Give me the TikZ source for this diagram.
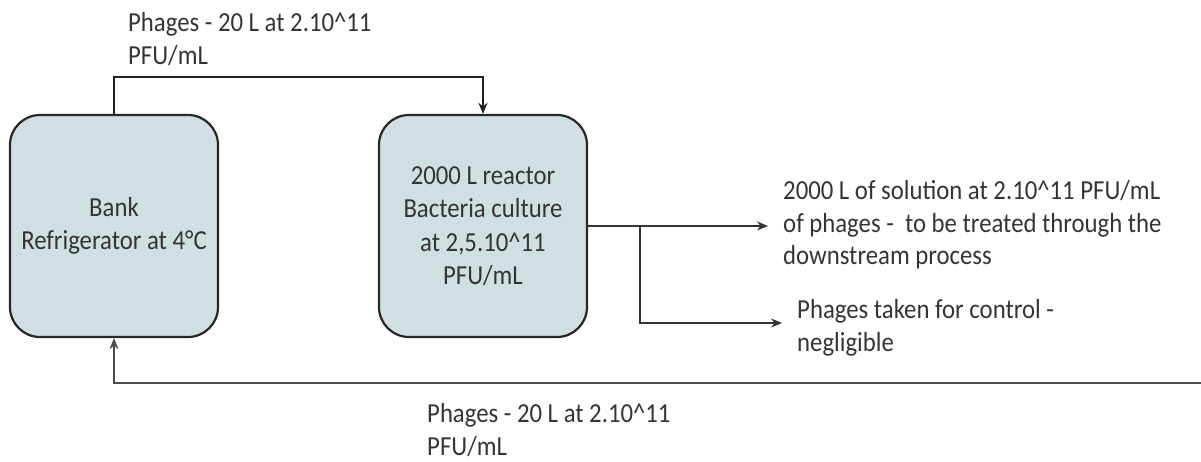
\documentclass[tikz,border=0pt]{standalone}
\usepackage{fontspec}
\setmainfont{Carlito}[FakeStretch=0.9]
\usepackage{xcolor}
\usetikzlibrary{arrows.meta, positioning, calc}
\definecolor{tankfill}{RGB}{208,223,226}
\definecolor{inkgrey}{RGB}{52,52,52}
\tikzset{
    flowdiagram/.style={x=1pt, y=-1pt, >={Stealth[length=11pt, width=9pt]},
        font=\fontsize{27.5}{32.5}\selectfont, text=inkgrey},
    tank/.style={draw=black!85, line width=2.2pt, fill=tankfill, rounded corners=30pt,
        minimum width=208pt, minimum height=222pt, align=center, inner sep=0pt},
    note/.style={anchor=west, align=left, inner sep=0pt},
    flow/.style={draw=black!88, line width=2.2pt},
    thinflow/.style={draw=black!80, line width=1.6pt},
    tap/.style={coordinate},
}
\begin{document}
\begin{tikzpicture}[flowdiagram]
    \useasboundingbox (0,0) rectangle (1201,461);

    % vessels
    \node[tank] (bank)    at (114,226) {Bank\\[1pt]Refrigerator at 4°C};
    \node[tank] (reactor) at (483,226) {2000 L reactor\\[1pt]Bacteria culture\\[1pt]at 2,5.10\textasciicircum 11\\[1pt]PFU/mL};

    % free ends of the streams
    \coordinate (split) at (640,226);
    \coordinate (out)   at (768,226);
    \coordinate (ctrl)  at (782,323);
    \coordinate (ret)   at (1201,383);

    % labels
    \node[note] (feed)    at (128,39)  {Phages - 20 L at 2.10\textasciicircum 11\\PFU/mL};
    \node[note] (product) at (783,225) {2000 L of solution at 2.10\textasciicircum 11 PFU/mL\\of phages -\ \ to be treated through the\\downstream process};
    \node[note] (control) at (797,328) {Phages taken for control -\\negligible};
    \node[note] (back)    at (427,430) {Phages - 20 L at 2.10\textasciicircum 11\\PFU/mL};

    % streams
    \draw[flow, ->] (bank.north) -- ++(0,-37) -| (reactor.north);
    \draw[thinflow, ->] (reactor.east) -- (out);
    \draw[thinflow, ->] (split) |- (ctrl);
    \draw[thinflow, draw=black!70, ->] (ret) -| (bank.south);
\end{tikzpicture}
\end{document}
